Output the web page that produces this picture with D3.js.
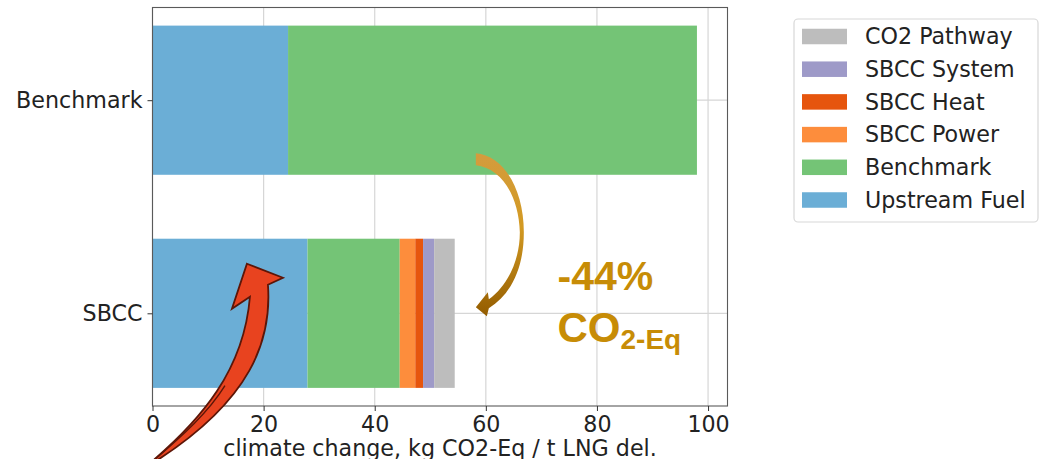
<!DOCTYPE html>
<html>
<head>
<meta charset="utf-8">
<script src="https://cdn.jsdelivr.net/npm/d3@7"></script>
<style>
  body { margin: 0; background: #fff; }
  svg text { font-family: "DejaVu Sans", sans-serif; }
  svg text.ann { font-family: "Liberation Sans", Arial, sans-serif; font-weight: bold; }
</style>
</head>
<body>
<svg id="chart" width="1048" height="459"></svg>
<script>
// Climate change per tonne of LNG delivered, by contribution
const categories = ["SBCC", "Benchmark"];
const seriesNames = ["Upstream Fuel", "Benchmark", "SBCC Power", "SBCC Heat", "SBCC System", "CO2 Pathway"];
const upstreamFuel = [27.9, 24.4];
const benchmarkPart = [16.6, 73.6];
const sbccPower = [2.8, 0];
const sbccHeat = [1.4, 0];
const sbccSystem = [2.0, 0];
const co2Pathway = [3.7, 0];
const seriesColors = ["#6baed6", "#74c476", "#fd8d3c", "#e6550d", "#9e9ac8", "#bdbdbd"];
const xTicks = [0, 20, 40, 60, 80, 100];
const xLabel = "climate change, kg CO2-Eq / t LNG del.";

const seriesValues = [upstreamFuel, benchmarkPart, sbccPower, sbccHeat, sbccSystem, co2Pathway];
const rows = categories.map((c, i) => {
  const r = { category: c, index: i };
  seriesNames.forEach((s, k) => { r[s] = seriesValues[k][i]; });
  return r;
});

const svg = d3.select("#chart");
const plot = { left: 152.5, right: 727.5, top: 7.5, bottom: 406 };

const x = d3.scaleLinear().domain([0, 103.5]).range([plot.left, plot.right]);
const y = d3.scaleLinear().domain([-0.435, 1.435]).range([plot.bottom, plot.top]);
const barH = 0.7;
const color = d3.scaleOrdinal().domain(seriesNames).range(seriesColors);

const stacked = d3.stack().keys(seriesNames)(rows);

// grid
const grid = svg.append("g").attr("stroke", "#d6d6d6").attr("stroke-width", 1.2);
grid.selectAll("line.v").data(xTicks).join("line")
  .attr("x1", d => x(d)).attr("x2", d => x(d))
  .attr("y1", plot.top).attr("y2", plot.bottom);
grid.selectAll("line.h").data(categories).join("line")
  .attr("x1", plot.left).attr("x2", plot.right)
  .attr("y1", (d, i) => y(i)).attr("y2", (d, i) => y(i));

// stacked bars
svg.append("g").selectAll("g").data(stacked).join("g")
  .attr("fill", d => color(d.key))
  .selectAll("rect").data(d => d).join("rect")
  .attr("x", d => x(d[0]))
  .attr("width", d => x(d[1]) - x(d[0]))
  .attr("y", d => y(d.data.index + barH / 2))
  .attr("height", d => y(d.data.index - barH / 2) - y(d.data.index + barH / 2));

// frame
svg.append("rect")
  .attr("x", plot.left).attr("y", plot.top)
  .attr("width", plot.right - plot.left).attr("height", plot.bottom - plot.top)
  .attr("fill", "none").attr("stroke", "#5a5a5a").attr("stroke-width", 1.1);

// axes
const xAxis = d3.axisBottom(x).tickValues(xTicks).tickSize(5).tickPadding(5);
const gx = svg.append("g").attr("transform", `translate(0,${plot.bottom})`).call(xAxis);
gx.select(".domain").remove();
gx.selectAll(".tick line").attr("stroke", "#333");
gx.selectAll(".tick text").attr("fill", "#222").style("font-size", "22.2px")
  .style("font-family", "DejaVu Sans");

const yAxis = d3.axisLeft(y).tickValues([0, 1]).tickFormat(d => categories[d]).tickSize(5).tickPadding(5);
const gy = svg.append("g").attr("transform", `translate(${plot.left},0)`).call(yAxis);
gy.select(".domain").remove();
gy.selectAll(".tick line").attr("stroke", "#333");
gy.selectAll(".tick text").attr("fill", "#222").style("font-size", "22.2px")
  .style("font-family", "DejaVu Sans");

svg.append("text")
  .attr("x", (plot.left + plot.right) / 2).attr("y", 456)
  .attr("text-anchor", "middle").attr("fill", "#222")
  .style("font-size", "22.2px").text(xLabel);

// legend (top entry = last stacked series)
const legendItems = seriesNames.slice().reverse();
const lg = svg.append("g");
lg.append("rect").attr("x", 794).attr("y", 19).attr("width", 244).attr("height", 203)
  .attr("rx", 4).attr("fill", "#fff").attr("stroke", "#d8d8d8").attr("stroke-width", 1.2);
const li = lg.selectAll("g.item").data(legendItems).join("g")
  .attr("transform", (d, i) => `translate(0,${36.5 + i * 32.7})`);
li.append("rect").attr("x", 802).attr("y", -7.75).attr("width", 45).attr("height", 15.5)
  .attr("fill", d => color(d));
li.append("text").attr("x", 865).attr("y", 7.8).attr("fill", "#222")
  .style("font-size", "22.2px").text(d => d);

// reduction annotation
const sbccTotal = d3.sum(seriesValues, s => s[0]);
const benchTotal = d3.sum(seriesValues, s => s[1]);
const change = Math.round((sbccTotal / benchTotal - 1) * 100);

const defs = svg.append("defs");
const gold = defs.append("linearGradient").attr("id", "goldGrad")
  .attr("x1", 0).attr("y1", 0).attr("x2", 0).attr("y2", 1);
gold.append("stop").attr("offset", "0%").attr("stop-color", "#d49c3e");
gold.append("stop").attr("offset", "45%").attr("stop-color", "#d39a22");
gold.append("stop").attr("offset", "100%").attr("stop-color", "#935c00");

// curved arrow from the benchmark bar down to the SBCC bar
const gT = [x(58.2), y(0) - 6];
const gS = [gT[0], gT[1] - 154];
const goldPath = `M0,0 C27,2 48,35 48,79 C48,112 37,140 13,155 L11,163 L0,154 L12,139 L13,146
  C31,133 44,108 44,79 C43,43 26,15 0,12 Z`;
svg.append("path").attr("d", goldPath)
  .attr("transform", `translate(${gS[0]},${gS[1]})`)
  .attr("fill", "url(#goldGrad)");

const ann = svg.append("g").attr("fill", "#c78c06");
ann.append("text").attr("class", "ann").attr("x", x(72.9)).attr("y", 290).style("font-size", "41px")
  .text(`${change}%`);
const co = ann.append("text").attr("class", "ann").attr("x", x(72.9)).attr("y", 342).style("font-size", "42px");
co.append("tspan").text("CO");
co.append("tspan").attr("dy", 7).style("font-size", "28px").text("2-Eq");

// red curved arrow pointing up into the SBCC upstream segment
const rT = [x(17), y(0.35) + 25];
const redPath = `M0,0 L36,14 L21,21 C25,76 5,136 -92,198 L-100,202
  C-45,156 -3,106 3,33 L-15,45 Z`;
const rg = svg.append("g").attr("transform", `translate(${rT[0]},${rT[1]})`);
rg.append("path").attr("d", redPath)
  .attr("fill", "#e8431f").attr("stroke", "#5c1608").attr("stroke-width", 1.8)
  .attr("stroke-linejoin", "miter");
rg.append("path").attr("d", "M-96,199 C-64,172 -38,148 -22,122")
  .attr("fill", "none").attr("stroke", "#5c1608").attr("stroke-width", 1.4);
</script>
</body>
</html>
